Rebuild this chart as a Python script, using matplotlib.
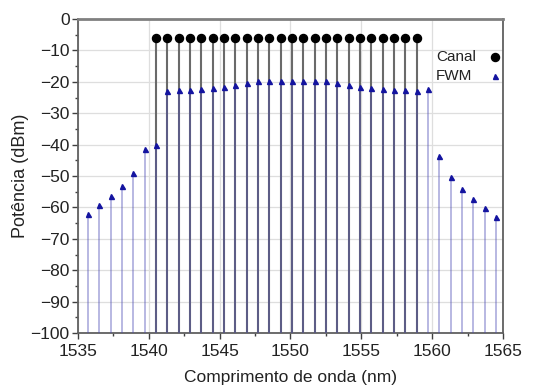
import matplotlib
matplotlib.use("Agg")
import matplotlib.pyplot as plt
from matplotlib.ticker import MultipleLocator

plt.rcParams["font.family"] = ["Liberation Sans", "DejaVu Sans"]

# ── Data ──────────────────────────────────────────────────────────────────────

# channel wavelengths (nm) and launch power (dBm)
canal_nm = [1540.5, 1541.3, 1542.1, 1542.9, 1543.7, 1544.5, 1545.3, 1546.1,
            1546.9, 1547.7, 1548.5, 1549.3, 1550.1, 1550.9, 1551.7, 1552.5,
            1553.3, 1554.1, 1554.9, 1555.7, 1556.5, 1557.3, 1558.1, 1558.9]
canal_dbm = [-6.0] * len(canal_nm)

# FWM products
fwm_nm = [1535.7, 1536.5, 1537.3, 1538.1, 1538.9, 1539.7,
          1540.5, 1541.3, 1542.1, 1542.9, 1543.7, 1544.5, 1545.3, 1546.1,
          1546.9, 1547.7, 1548.5, 1549.3, 1550.1, 1550.9, 1551.7, 1552.5,
          1553.3, 1554.1, 1554.9, 1555.7, 1556.5, 1557.3, 1558.1, 1558.9,
          1559.7, 1560.5, 1561.3, 1562.1, 1562.9, 1563.7, 1564.5]
fwm_dbm = [-62.2, -59.1, -56.3, -53.2, -48.9, -41.4,
           -40.1, -22.8, -22.7, -22.5, -22.2, -21.9, -21.5, -21.1,
           -20.5, -19.9, -19.9, -19.9, -19.7, -19.7, -19.7, -19.9,
           -20.5, -21.0, -21.5, -22.0, -22.3, -22.5, -22.7, -22.9,
           -22.2, -43.5, -50.3, -54.2, -57.2, -60.2, -63.2]

Y_FLOOR = -100

# ── Figure ────────────────────────────────────────────────────────────────────

fig = plt.figure(figsize=(5.34, 3.92), dpi=100)
ax = fig.add_axes([0.146, 0.1505, 0.796, 0.801])

CH_LINE = "#6a6a6a"
FWM_LINE = "#4a4ab4"
FWM_MARK = "#1414a0"
TXT = "#222222"

ax.vlines(canal_nm, Y_FLOOR, canal_dbm, color=CH_LINE, linewidth=1.5, zorder=2)
ax.plot(canal_nm, canal_dbm, "o", color="black", markersize=5.8, zorder=4)

ax.vlines(fwm_nm, Y_FLOOR, fwm_dbm, color=FWM_LINE, alpha=0.5, linewidth=1.1, zorder=3)
ax.plot(fwm_nm, fwm_dbm, "^", color=FWM_MARK, markersize=3.6, zorder=5)

ax.set_xlim(1535, 1565)
ax.set_ylim(-100, 0)
ax.xaxis.set_major_locator(MultipleLocator(5))
ax.xaxis.set_minor_locator(MultipleLocator(2.5))
ax.yaxis.set_major_locator(MultipleLocator(10))
ax.yaxis.set_minor_locator(MultipleLocator(5))

ax.grid(True, which="major", color="#dedede", linewidth=0.9, zorder=0)
ax.set_axisbelow(True)
for name, spine in ax.spines.items():
    spine.set_edgecolor("#606060")
    spine.set_linewidth(1.3)
ax.spines["top"].set_linewidth(2.0)
ax.spines["top"].set_edgecolor("#808080")

ax.tick_params(which="major", direction="out", length=4, width=1.0,
               colors="#404040", labelsize=12.5, labelcolor=TXT)
ax.tick_params(which="minor", direction="out", length=2.5, width=1.0,
               colors="#404040")
ax.tick_params(axis="x", pad=4)
ax.tick_params(axis="y", pad=2)

ax.set_xlabel("Comprimento de onda (nm)", fontsize=12.5, color=TXT, labelpad=8)
ax.set_ylabel("Potência (dBm)", fontsize=13, color=TXT, labelpad=1)

# legend drawn by hand: text left-aligned, marker on the right
leg_rows = [("Canal", "o", "black", 5.8, 0.880),
            ("FWM", "^", FWM_MARK, 3.6, 0.820)]
for label, mk, col, ms, yy in leg_rows:
    ax.text(0.842, yy, label, transform=ax.transAxes, fontsize=11,
            color=TXT, ha="left", va="center")
    ax.plot([0.982], [yy], mk, color=col, markersize=ms,
            transform=ax.transAxes, clip_on=False)

fig.savefig("out.png", dpi=100, facecolor="white")
plt.close()
